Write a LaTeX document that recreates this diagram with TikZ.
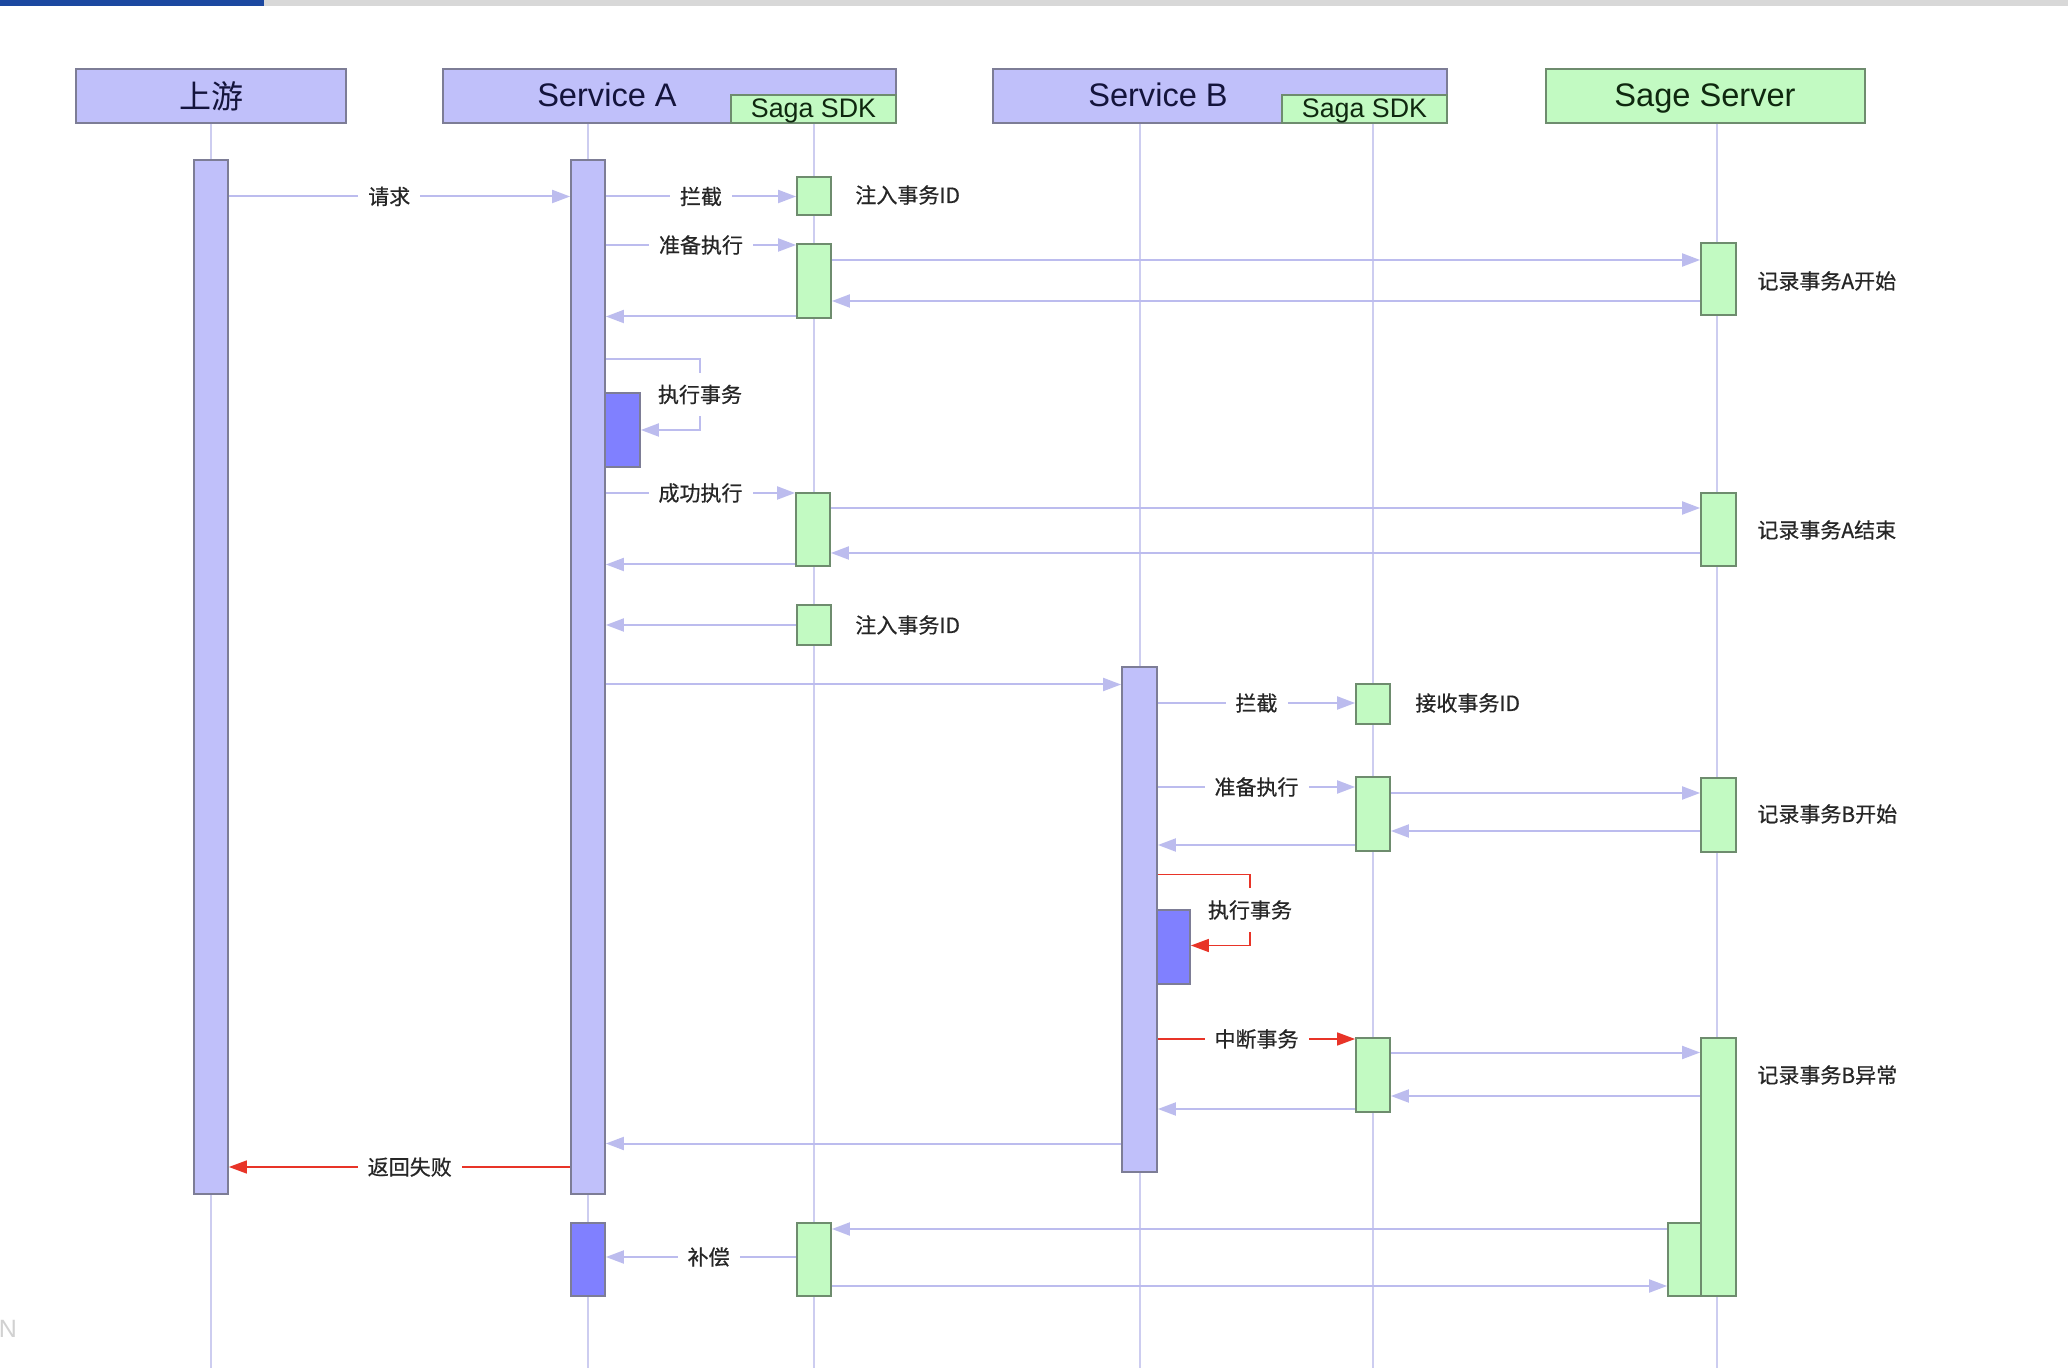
\documentclass[tikz,border=0pt]{standalone}
\usepackage{fontspec}
\setmainfont{Liberation Sans}
\newfontfamily\cjk{Noto Sans CJK SC}
\newfontfamily\cjkb[FakeBold=0.6]{Noto Sans CJK SC}
\usetikzlibrary{fit,arrows.meta}
\definecolor{lav}{RGB}{192,192,250}
\definecolor{lavline}{RGB}{188,188,238}
\definecolor{lifec}{RGB}{205,205,240}
\definecolor{execc}{RGB}{128,128,255}
\definecolor{grn}{RGB}{194,250,194}
\definecolor{grnb}{RGB}{110,140,110}
\definecolor{lavb}{RGB}{125,125,150}
\definecolor{redc}{RGB}{232,52,40}
\definecolor{topblue}{RGB}{28,72,160}
\definecolor{topgray}{RGB}{216,216,216}
\definecolor{navy}{RGB}{20,20,60}
\definecolor{dgreen}{RGB}{15,40,15}
\begin{document}
\begin{tikzpicture}[x=0.5pt,y=-0.5pt,
  hdrL/.style={draw=lavb, fill=lav, line width=1pt, inner sep=0pt},
  hdrG/.style={draw=grnb, fill=grn, line width=1pt, inner sep=0pt},
  barL/.style={draw=lavb, fill=lav, line width=0.9pt, inner sep=0pt},
  barX/.style={draw=lavb, fill=execc, line width=0.9pt, inner sep=0pt},
  barG/.style={draw=grnb, fill=grn, line width=0.9pt, inner sep=0pt},
  life/.style={draw=lifec, line width=0.8pt},
  msg/.style={draw=lavline, line width=1pt, -{Triangle[length=9pt,width=6.5pt]}},
  msgR/.style={draw=redc, line width=0.8pt, -{Triangle[length=9pt,width=6.5pt]}},
  lbl/.style={fill=white, inner xsep=5pt, inner ysep=1pt, font=\cjkb\fontsize{10.5}{12}\selectfont, text=black!85},
  slbl/.style={lbl, inner xsep=2pt, inner ysep=6pt},
  note/.style={anchor=west, inner sep=0pt, font=\cjkb\fontsize{10.5}{12}\selectfont, text=black!85},
  htext/.style={font=\fontsize{16.3}{19}\selectfont, inner sep=0pt},
  stext/.style={font=\fontsize{13.4}{15}\selectfont, inner sep=0pt, text=dgreen},
]
\useasboundingbox (0,0) rectangle (2068,1368);
\fill[white] (0,0) rectangle (2068,1368);
\fill[topblue] (0,0) rectangle (264,6);
\fill[topgray] (264,0) rectangle (2068,6);

% headers
\node[hdrL, fit={(76,69)(346,123)}] (hU) {};
\node[htext, font=\cjk\fontsize{16}{19}\selectfont, text=navy] (tU) at (211,96) {上游};
\node[hdrL, fit={(443,69)(896,123)}] (hA) {};
\node[hdrG, fit={(731,95)(896,123)}] (hAs) {};
\node[htext, text=navy] (tA) at (607,95) {Service A};
\node[stext] (tAs) at (813.5,111) {Saga SDK};
\node[hdrL, fit={(993,69)(1447,123)}] (hB) {};
\node[hdrG, fit={(1282,95)(1447,123)}] (hBs) {};
\node[htext, text=navy] (tB) at (1158,95) {Service B};
\node[stext] (tBs) at (1364.5,111) {Saga SDK};
\node[hdrG, fit={(1546,69)(1865,123)}] (hS) {};
\node[htext, text=dgreen] (tS) at (1705,99) {Sage Server};

% lifeline ends
\coordinate (eU) at (211,1368);
\coordinate (eA) at (588,1368);
\coordinate (eAs) at (814,1368);
\coordinate (eB) at (1140,1368);
\coordinate (eBs) at (1373,1368);
\coordinate (eS) at (1717,1368);
\draw[life] (hU.south) -- (eU);
\draw[life] (hA.south -| eA) -- (eA);
\draw[life] (hAs.south -| eAs) -- (eAs);
\draw[life] (hB.south -| eB) -- (eB);
\draw[life] (hBs.south -| eBs) -- (eBs);
\draw[life] (hS.south -| eS) -- (eS);

% activation bars
\node[barL, fit={(194,160)(228,1194)}] (U) {};
\node[barL, fit={(571,160)(605,1194)}] (A) {};
\node[barX, fit={(605,393)(640,467)}] (Ax) {};
\node[barX, fit={(571,1223)(605,1296)}] (Ac) {};
\node[barG, fit={(797,177)(831,215)}] (a1) {};
\node[barG, fit={(797,244)(831,318)}] (a2) {};
\node[barG, fit={(796,493)(830,566)}] (a3) {};
\node[barG, fit={(797,605)(831,645)}] (a4) {};
\node[barG, fit={(797,1223)(831,1296)}] (a5) {};
\node[barL, fit={(1122,667)(1157,1172)}] (B) {};
\node[barX, fit={(1157,910)(1190,984)}] (Bx) {};
\node[barG, fit={(1356,684)(1390,724)}] (b1) {};
\node[barG, fit={(1356,777)(1390,851)}] (b2) {};
\node[barG, fit={(1356,1038)(1390,1112)}] (b3) {};
\node[barG, fit={(1701,243)(1736,315)}] (s1) {};
\node[barG, fit={(1701,493)(1736,566)}] (s2) {};
\node[barG, fit={(1701,778)(1736,852)}] (s3) {};
\node[barG, fit={(1701,1038)(1736,1296)}] (s4) {};
\node[barG, fit={(1668,1223)(1701,1296)}] (s5) {};

% messages
\draw[msg] (U.east |- 0,196.5) -- node[lbl,pos=0.47]{请求} (A.west |- 0,196.5);
\draw[msg] (A.east |- 0,196.5) -- node[lbl]{拦截} (a1.west |- 0,196.5);
\draw[msg] (A.east |- 0,245) -- node[lbl]{准备执行} (a2.west |- 0,245);
\draw[msg] (a2.east |- 0,260) -- (s1.west |- 0,260);
\draw[msg] (s1.west |- 0,301) -- (a2.east |- 0,301);
\draw[msg] (a2.west |- 0,316.5) -- (A.east |- 0,316.5);
\coordinate (c1) at (700,359);
\coordinate (c2) at (700,430);
\draw[msg] (A.east |- c1) -- (c1) -- node[slbl]{执行事务} (c2) -- (Ax.east |- c2);
\draw[msg] (A.east |- 0,493) -- node[lbl]{成功执行} (a3.west |- 0,493);
\draw[msg] (a3.east |- 0,508) -- (s2.west |- 0,508);
\draw[msg] (s2.west |- 0,553) -- (a3.east |- 0,553);
\draw[msg] (a3.west |- 0,564.5) -- (A.east |- 0,564.5);
\draw[msg] (a4.west |- 0,625) -- (A.east |- 0,625);
\draw[msg] (A.east |- 0,684.5) -- (B.west |- 0,684.5);
\draw[msg] (B.east |- 0,703) -- node[lbl]{拦截} (b1.west |- 0,703);
\draw[msg] (B.east |- 0,787) -- node[lbl]{准备执行} (b2.west |- 0,787);
\draw[msg] (b2.east |- 0,793) -- (s3.west |- 0,793);
\draw[msg] (s3.west |- 0,831) -- (b2.east |- 0,831);
\draw[msg] (b2.west |- 0,845) -- (B.east |- 0,845);
\coordinate (c3) at (1250,874.5);
\coordinate (c4) at (1250,945.5);
\draw[msgR] (B.east |- c3) -- (c3) -- node[slbl]{执行事务} (c4) -- (Bx.east |- c4);
\draw[msgR] (B.east |- 0,1039) -- node[lbl]{中断事务} (b3.west |- 0,1039);
\draw[msg] (b3.east |- 0,1052.5) -- (s4.west |- 0,1052.5);
\draw[msg] (s4.west |- 0,1096) -- (b3.east |- 0,1096);
\draw[msg] (b3.west |- 0,1109) -- (B.east |- 0,1109);
\draw[msg] (B.west |- 0,1143.5) -- (A.east |- 0,1143.5);
\draw[msgR] (A.west |- 0,1167) -- node[lbl,pos=0.47]{返回失败} (U.east |- 0,1167);
\draw[msg] (s5.west |- 0,1229) -- (a5.east |- 0,1229);
\draw[msg] (a5.west |- 0,1257) -- node[lbl,pos=0.46]{补偿} (Ac.east |- 0,1257);
\draw[msg] (a5.east |- 0,1286) -- (s5.west |- 0,1286);

% notes
\node[note] (n1) at (855,195) {注入事务ID};
\node[note] (n2) at (1757,281) {记录事务A开始};
\node[note] (n3) at (1757,530) {记录事务A结束};
\node[note] (n4) at (855,625) {注入事务ID};
\node[note] (n5) at (1415,703) {接收事务ID};
\node[note] (n6) at (1757,814) {记录事务B开始};
\node[note] (n7) at (1757,1075) {记录事务B异常};

\node[text=black!18, font=\fontsize{12.5}{14}\selectfont, inner sep=0pt] (wm) at (8,1329) {N};
\end{tikzpicture}
\end{document}
